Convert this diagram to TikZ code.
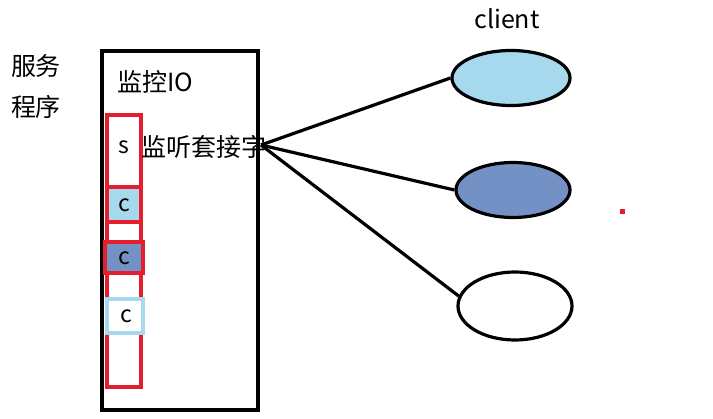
\documentclass[tikz,border=0pt]{standalone}
\usepackage{fontspec}
\setmainfont{Noto Sans CJK SC}
\usepackage{tikz}
\usetikzlibrary{positioning, calc, shapes.geometric}

\definecolor{lightcl}{RGB}{166,216,238}
\definecolor{darkcl}{RGB}{115,145,196}
\definecolor{redbox}{RGB}{228,30,45}

\tikzset{
    bigtxt/.style={font=\fontsize{25}{29}\selectfont, inner sep=0pt},
    celltxt/.style={font=\fontsize{23}{26}\selectfont, inner sep=0pt},
    client/.style={ellipse, draw=black, line width=3.2pt, inner sep=0pt}
}

\begin{document}
\begin{tikzpicture}[x=1pt, y=-1pt, line width=3.2pt]
    \useasboundingbox (0,0) rectangle (713,419);

    % ================= labels =================
    \node[bigtxt] (fw) at (36,66) {服务};
    \node[bigtxt] (cx) at (36,107) {程序};
    \node[bigtxt] (cl) at (507,19) {client};

    % ================= server box =================
    \draw (102,51) rectangle (258,410);
    \node[bigtxt, anchor=west] (jk) at (116,82) {监控IO};

    % socket list (red)
    \draw[redbox] (107,115) rectangle (141,387);
    \draw[redbox] (107,115) rectangle (141,187);
    \node[celltxt] (s) at (124,147) {s};
    \node[bigtxt, anchor=west] (lis) at (140,147) {监听套接字};

    \draw[redbox, fill=lightcl] (107,187) rectangle (141,222);
    \node[celltxt] (c1) at (124,205) {c};

    \draw[redbox, fill=darkcl, line width=3.8pt] (105,242) rectangle (143,273);
    \node[celltxt] (c2) at (124,258) {c};

    \draw[lightcl, fill=white] (107,299) rectangle (143,333);
    \node[celltxt] (c3) at (126,316) {c};

    % ================= clients =================
    \node[client, fill=lightcl, minimum width=118pt, minimum height=55pt] (e1) at (511,78) {};
    \node[client, fill=darkcl, minimum width=114pt, minimum height=55pt] (e2) at (513,190) {};
    \node[client, fill=white, minimum width=114pt, minimum height=68pt] (e3) at (515,306) {};

    % ================= connections =================
    \coordinate (hub) at (261,145);
    \draw (hub) -- (e1.west);
    \draw (hub) -- (e2.west);
    \draw (hub) -- (e3.170);

    % stray mark
    \fill[redbox] (620,209) rectangle (625,214);
\end{tikzpicture}
\end{document}
